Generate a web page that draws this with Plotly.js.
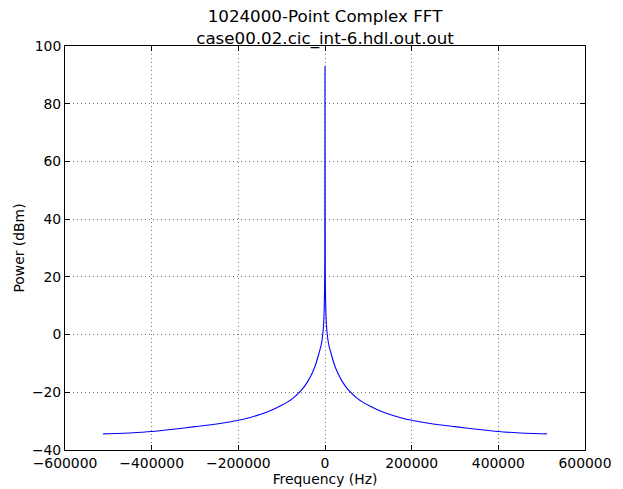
<!DOCTYPE html>
<html><head><meta charset="utf-8">
<script src="https://cdn.plot.ly/plotly-3.0.1.min.js"></script>
<style>html,body{margin:0;padding:0;background:#fff}#c{width:623px;height:489px}</style>
</head><body><div id="c"></div>
<script>
var freqHalf = [512000, 480000, 450000, 400000, 350000, 300000, 250000, 225000, 200000, 175000, 150000, 125000, 100000, 75000, 54000, 40000, 30000, 23000, 16000, 12000, 8000, 5000, 3000, 2000, 1000, 500];
var powerHalf = [-34.4, -34.3, -34.1, -33.6, -32.8, -31.9, -31.0, -30.4, -29.7, -28.8, -27.7, -26.3, -24.5, -22.2, -19.2, -16.3, -13.5, -11.0, -7.6, -5.5, -3.0, 0.3, 4, 8, 15, 25];
var peakFreq = 0, peakPower = 93;
var xTickVals = [-600000, -400000, -200000, 0, 200000, 400000, 600000];
var xTickText = ["\u2212600000", "\u2212400000", "\u2212200000", "0", "200000", "400000", "600000"];
var yTickVals = [-40, -20, 0, 20, 40, 60, 80, 100];
var yTickText = ["\u221240", "\u221220", "0", "20", "40", "60", "80", "100"];

var freq = [], power = [];
for (var i = 0; i < freqHalf.length; i++) { freq.push(-freqHalf[i]); power.push(powerHalf[i]); }
freq.push(peakFreq); power.push(peakPower);
for (var j = freqHalf.length - 1; j >= 0; j--) { freq.push(freqHalf[j]); power.push(powerHalf[j]); }

var font = {family: "DejaVu Sans, sans-serif", size: 13.9, color: "#000"};
var axisCommon = {
  showline: true, linecolor: "#000", linewidth: 1, mirror: "ticks",
  ticks: "inside", ticklen: 5, tickcolor: "#000", tickwidth: 1,
  showgrid: true, gridcolor: "#777", griddash: "1px,3px", gridwidth: 1,
  zeroline: false, tickfont: font, tickmode: "array"
};
var layout = {
  width: 623, height: 489,
  margin: {l: 65, r: 38, t: 46, b: 39},
  paper_bgcolor: "#fff", plot_bgcolor: "#fff",
  showlegend: false,
  font: font,
  title: {text: "1024000-Point Complex FFT<br>case00.02.cic_int-6.hdl.out.out", font: {family: "DejaVu Sans, sans-serif", size: 16.7, color: "#000"}, x: 0.5, xref: "paper", xanchor: "center", y: 0.955, yref: "container", yanchor: "middle"},
  xaxis: Object.assign({}, axisCommon, {range: [-600000, 600000], tickvals: xTickVals, ticktext: xTickText, title: {text: "Frequency (Hz)", font: font, standoff: 2}}),
  yaxis: Object.assign({}, axisCommon, {range: [-40, 100], tickvals: yTickVals, ticktext: yTickText, title: {text: "Power (dBm)", font: font, standoff: 4}})
};
var trace = {x: freq, y: power, type: "scatter", mode: "lines", line: {color: "#0000ff", width: 1.1, shape: "spline", smoothing: 0.6}, hoverinfo: "skip"};
Plotly.newPlot("c", [trace], layout, {staticPlot: true, displayModeBar: false});
</script></body></html>
